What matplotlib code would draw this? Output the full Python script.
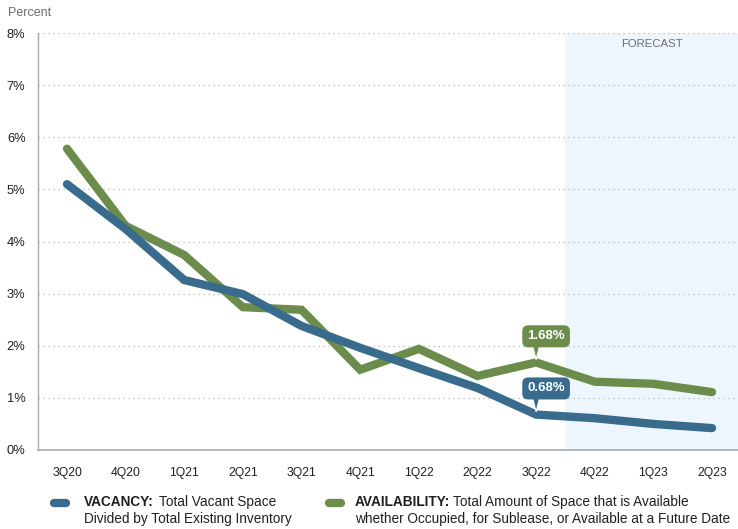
import matplotlib.pyplot as plt
from matplotlib.lines import Line2D

plt.rcParams['font.family'] = ['Liberation Sans', 'DejaVu Sans']

quarters = ['3Q20', '4Q20', '1Q21', '2Q21', '3Q21', '4Q21', '1Q22', '2Q22', '3Q22', '4Q22', '1Q23', '2Q23']
vacancy = [5.10, 4.24, 3.26, 2.99, 2.38, 1.96, 1.57, 1.19, 0.68, 0.61, 0.50, 0.42]
availability = [5.78, 4.30, 3.74, 2.74, 2.69, 1.54, 1.94, 1.42, 1.68, 1.31, 1.27, 1.11]
y_ticks = [0, 1, 2, 3, 4, 5, 6, 7, 8]
forecast_start = 8.5

blue = '#386b8c'
green = '#6b8c4a'

fig = plt.figure(figsize=(7.38, 5.29), dpi=100)
ax = fig.add_axes([38 / 738, 1 - 450 / 529, 1 - 38 / 738, (450 - 33) / 529])

x = list(range(len(quarters)))

# forecast shading
ax.axvspan(forecast_start, 20, color='#eef6fd', zorder=0, lw=0)
ax.text(9.98, 7.88, 'FORECAST', ha='center', va='top', fontsize=8.2, color='#6d6e71')

# grid
for t in y_ticks[1:]:
    ax.axhline(t, color='#b5b5b5', lw=0.9, ls=(0, (1, 3)), zorder=1)

ax.plot(x, availability, color=green, lw=6, solid_capstyle='round', solid_joinstyle='miter', zorder=3)
ax.plot(x, vacancy, color=blue, lw=6, solid_capstyle='round', solid_joinstyle='miter', zorder=4)

# callouts
for vals, col in [(availability, green), (vacancy, blue)]:
    i = 8
    ax.annotate('', xy=(i, vals[i]), xytext=(0, 15), textcoords='offset points',
                arrowprops=dict(arrowstyle='wedge,tail_width=0.55', color=col, lw=0.8, ec='white'),
                zorder=5)
    ax.annotate(f'{vals[i]:.2f}%', xy=(i, vals[i]), xytext=(7.2, 18.8), textcoords='offset points',
                ha='center', va='center', fontsize=9.5, fontweight='bold', color='white',
                bbox=dict(boxstyle='round,pad=0.38,rounding_size=0.45', fc=col, ec='none'), zorder=6)

ax.set_xlim(-0.4946, 11.443)
ax.set_ylim(0, 8)
ax.set_xticks(x)
ax.set_xticklabels(quarters)
ax.set_yticks(y_ticks)
ax.set_yticklabels([f'{t}%' for t in y_ticks])
ax.tick_params(axis='both', length=0, labelsize=8.7, colors='#231f20')
ax.tick_params(axis='x', pad=12)
ax.tick_params(axis='y', pad=9, labelsize=9.3)
for s in ['top', 'right']:
    ax.spines[s].set_visible(False)
ax.spines['left'].set_color('#a7a9ac')
ax.spines['bottom'].set_color('#a7a9ac')
ax.spines['left'].set_linewidth(1.0)
ax.spines['bottom'].set_linewidth(1.2)

fig.text(8 / 738, 1 - 13 / 529, 'Percent', fontsize=9, color='#6d6e71', va='center')

# legend
fig.add_artist(Line2D([54 / 738, 66 / 738], [1 - 503 / 529] * 2, color=blue, lw=6,
                      solid_capstyle='round', transform=fig.transFigure))
fig.add_artist(Line2D([329 / 738, 341 / 738], [1 - 503 / 529] * 2, color=green, lw=6,
                      solid_capstyle='round', transform=fig.transFigure))

fig.canvas.draw()
renderer = fig.canvas.get_renderer()


def legend_entry(x0, bold, rest, line2, gap):
    t = fig.text(x0, 1 - 502 / 529, bold, fontsize=9.8, fontweight='bold', color='#231f20', va='center')
    bb = t.get_window_extent(renderer)
    fig.text(bb.x1 / fig.bbox.width + gap / 738, 1 - 502 / 529, rest, fontsize=9.8, color='#231f20', va='center')
    fig.text(x0, 1 - 519 / 529, line2, fontsize=9.8, color='#231f20', va='center')


legend_entry(84 / 738, 'VACANCY:', 'Total Vacant Space', 'Divided by Total Existing Inventory', 5)
legend_entry(355 / 738, 'AVAILABILITY:', 'Total Amount of Space that is Available',
             'whether Occupied, for Sublease, or Available at a Future Date', 3)

fig.savefig('out.png', dpi=100)
